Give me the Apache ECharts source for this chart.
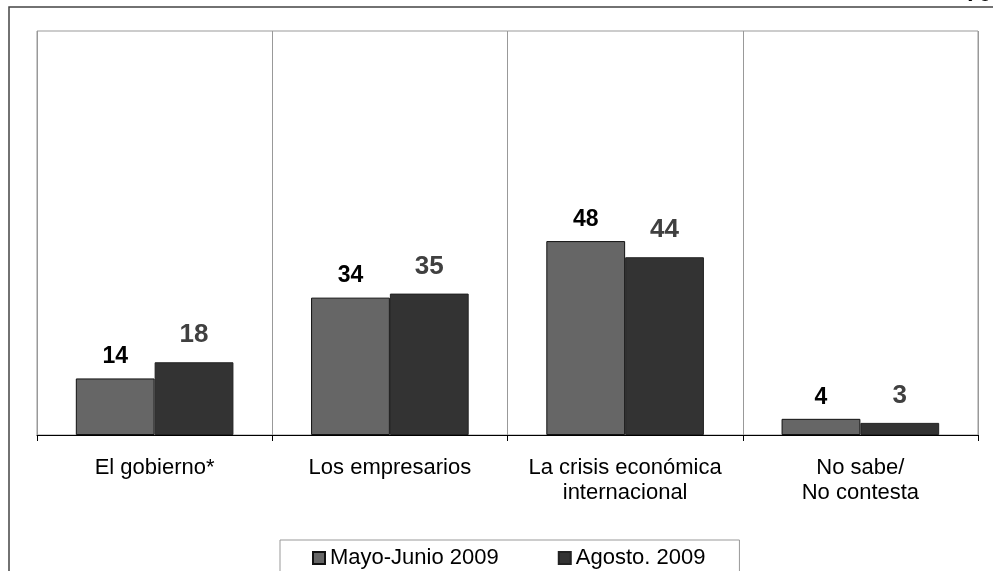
<!DOCTYPE html>
<html>
<head>
<meta charset="utf-8">
<script src="https://cdn.jsdelivr.net/npm/echarts@6/dist/echarts.min.js"></script>
<style>
  html, body { margin: 0; padding: 0; background: #fff; }
  #main { width: 993px; height: 571px; }
</style>
</head>
<body>
<div id="main"></div>
<script>
// categorias y valores (%)
let categories = ["El gobierno*", "Los empresarios", "La crisis económica\ninternacional", "No sabe/\nNo contesta"];
let seriesNames = ["Mayo-Junio 2009", "Agosto. 2009"];
let mayoJunio = [14, 34, 48, 4];
let agosto = [18, 35, 44, 3];

let myChart = echarts.init(document.getElementById("main"), null, { renderer: "canvas" });

let font = "'Liberation Sans', Arial, sans-serif";

let option = {
  animation: false,
  textStyle: { fontFamily: font },
  grid: {
    left: 37, top: 31, right: 15, bottom: 136,
    show: true, borderColor: "#999", borderWidth: 1,
  },
  legend: {
    data: seriesNames,
    icon: "rect",
    left: 280,
    top: 540,
    itemWidth: 12,
    itemHeight: 12,
    itemGap: 59,
    padding: [7, 34, 20, 32],
    borderColor: "#999",
    borderWidth: 1,
    textStyle: { fontSize: 22, color: "#000", fontFamily: font },
  },
  xAxis: {
    type: "category",
    data: categories,
    axisLine: { lineStyle: { color: "#000", width: 1 } },
    axisTick: { show: true, interval: 0, length: 6, lineStyle: { color: "#000" } },
    splitLine: { show: true, interval: 0, lineStyle: { color: "#999", width: 1 } },
    axisLabel: { interval: 0, fontSize: 22, color: "#000", lineHeight: 25, margin: 20, fontFamily: font },
  },
  yAxis: {
    type: "value",
    min: 0,
    max: 100,
    show: false,
    splitLine: { show: false },
  },
  series: [
    {
      name: seriesNames[0],
      type: "bar",
      data: mayoJunio,
      barGap: "0%",
      barCategoryGap: "33%",
      itemStyle: { color: "#666666", borderColor: "#111", borderWidth: 1 },
      label: {
        show: true, position: "top", distance: 10,
        fontSize: 23, fontWeight: "bold", color: "#000", fontFamily: font,
      },
    },
    {
      name: seriesNames[1],
      type: "bar",
      data: agosto,
      barGap: "0%",
      barCategoryGap: "33%",
      itemStyle: { color: "#333333", borderColor: "#222", borderWidth: 1 },
      label: {
        show: true, position: "top", distance: 14,
        fontSize: 26, fontWeight: "bold", color: "#404040", fontFamily: font,
      },
    },
  ],
  graphic: [
    {
      type: "polyline",
      shape: { points: [[9, 571], [9, 7], [993, 7]] },
      style: { stroke: "#444", lineWidth: 1.5, fill: null },
      silent: true,
    },
    {
      type: "text",
      x: 963,
      y: -24,
      style: { text: "%", fontSize: 32, fontWeight: "bold", fontFamily: font, fill: "#000", verticalAlign: "top" },
      silent: true,
    },
  ],
};

myChart.setOption(option);
</script>
</body>
</html>
